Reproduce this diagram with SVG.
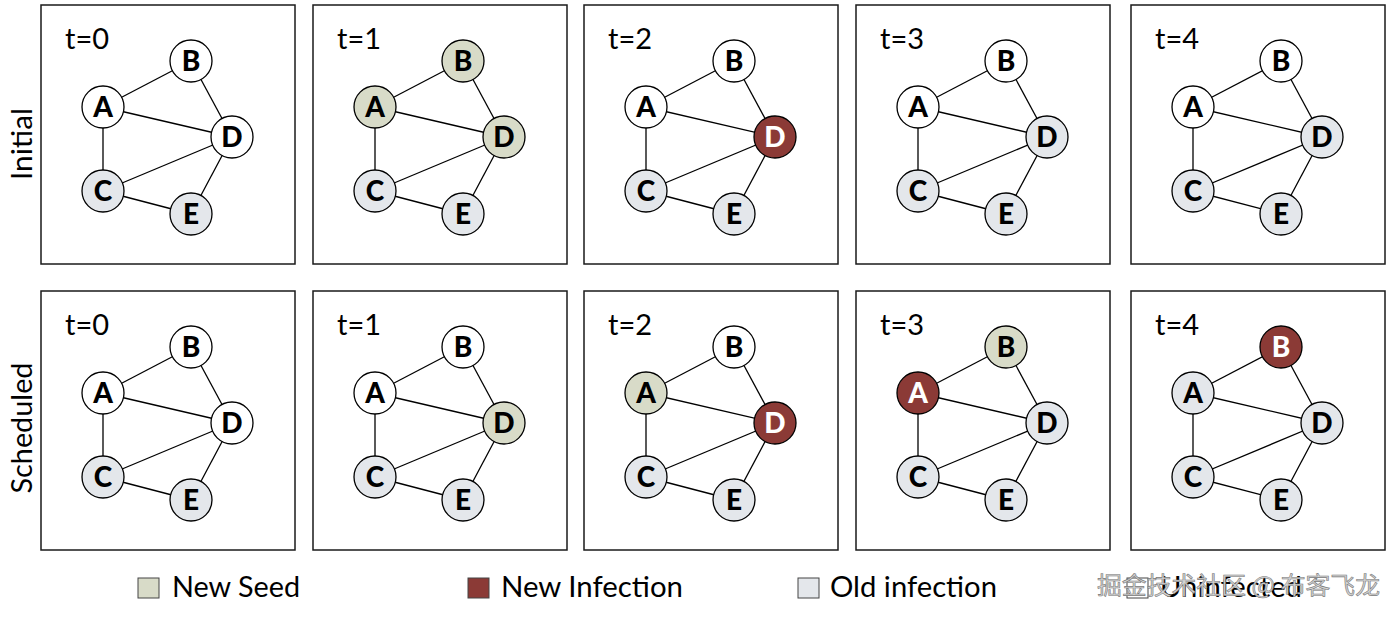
<svg xmlns="http://www.w3.org/2000/svg" width="1400" height="618" viewBox="0 0 1400 618">
<style>
  text { font-family: Lato, "Open Sans", "Liberation Sans", sans-serif; }
  .frame { fill: #fff; stroke: #1a1a1a; stroke-width: 1.5; }
  .edge { stroke: #000; stroke-width: 1.3; fill: none; }
  .n { stroke: #000; stroke-width: 1.3; }
  .w { fill: #ffffff; }
  .o { fill: #e4e7eb; }
  .s { fill: #d8dbc8; }
  .i { fill: #8b3a36; }
  .lt { font-size: 28px; font-weight: 900; fill: #000; text-anchor: middle; }
  .lt.wt { fill: #fff; }
  .tl { font-size: 29px; fill: #000; }
  .row { font-size: 29px; fill: #000; text-anchor: middle; }
  .leg { font-size: 29px; fill: #000; }
  .sq { stroke: #444; stroke-width: 1; }
  .wm { font-family: "Noto Sans CJK SC", sans-serif; font-size: 24px; fill: #d4d4d4; stroke: #7a7a7a; stroke-width: 0.6; }
</style>
<rect width="1400" height="618" fill="#fff"/>

<text class="row" transform="translate(32,144) rotate(-90)" textLength="72" lengthAdjust="spacingAndGlyphs">Initial</text>
<text class="row" transform="translate(32,428) rotate(-90)" textLength="131" lengthAdjust="spacingAndGlyphs">Scheduled</text>

<!-- Row 1: Initial -->
<g id="initial-t0" transform="translate(41,5)">
  <rect class="frame" x="0" y="0" width="254" height="259"/>
  <text class="tl" x="24" y="44">t=0</text>
  <g id="initial-t0-connectors">
    <line class="edge" x1="62" y1="102" x2="150" y2="56"/>
    <line class="edge" x1="62" y1="102" x2="191" y2="132"/>
    <line class="edge" x1="62" y1="102" x2="62" y2="186"/>
    <line class="edge" x1="150" y1="56" x2="191" y2="132"/>
    <line class="edge" x1="62" y1="186" x2="191" y2="132"/>
    <line class="edge" x1="62" y1="186" x2="150" y2="209"/>
    <line class="edge" x1="191" y1="132" x2="150" y2="209"/>
  </g>
  <g id="initial-t0-A"><circle class="n w" cx="62" cy="102" r="21"/><text class="lt" x="62" y="112">A</text></g>
  <g id="initial-t0-B"><circle class="n w" cx="150" cy="56" r="21"/><text class="lt" x="150" y="66">B</text></g>
  <g id="initial-t0-C"><circle class="n o" cx="62" cy="186" r="21"/><text class="lt" x="62" y="196">C</text></g>
  <g id="initial-t0-D"><circle class="n w" cx="191" cy="132" r="21"/><text class="lt" x="191" y="142">D</text></g>
  <g id="initial-t0-E"><circle class="n o" cx="150" cy="209" r="21"/><text class="lt" x="150" y="219">E</text></g>
</g>

<g id="initial-t1" transform="translate(313,5)">
  <rect class="frame" x="0" y="0" width="254" height="259"/>
  <text class="tl" x="24" y="44">t=1</text>
  <g id="initial-t1-connectors">
    <line class="edge" x1="62" y1="102" x2="150" y2="56"/>
    <line class="edge" x1="62" y1="102" x2="191" y2="132"/>
    <line class="edge" x1="62" y1="102" x2="62" y2="186"/>
    <line class="edge" x1="150" y1="56" x2="191" y2="132"/>
    <line class="edge" x1="62" y1="186" x2="191" y2="132"/>
    <line class="edge" x1="62" y1="186" x2="150" y2="209"/>
    <line class="edge" x1="191" y1="132" x2="150" y2="209"/>
  </g>
  <g id="initial-t1-A"><circle class="n s" cx="62" cy="102" r="21"/><text class="lt" x="62" y="112">A</text></g>
  <g id="initial-t1-B"><circle class="n s" cx="150" cy="56" r="21"/><text class="lt" x="150" y="66">B</text></g>
  <g id="initial-t1-C"><circle class="n o" cx="62" cy="186" r="21"/><text class="lt" x="62" y="196">C</text></g>
  <g id="initial-t1-D"><circle class="n s" cx="191" cy="132" r="21"/><text class="lt" x="191" y="142">D</text></g>
  <g id="initial-t1-E"><circle class="n o" cx="150" cy="209" r="21"/><text class="lt" x="150" y="219">E</text></g>
</g>

<g id="initial-t2" transform="translate(584,5)">
  <rect class="frame" x="0" y="0" width="254" height="259"/>
  <text class="tl" x="24" y="44">t=2</text>
  <g id="initial-t2-connectors">
    <line class="edge" x1="62" y1="102" x2="150" y2="56"/>
    <line class="edge" x1="62" y1="102" x2="191" y2="132"/>
    <line class="edge" x1="62" y1="102" x2="62" y2="186"/>
    <line class="edge" x1="150" y1="56" x2="191" y2="132"/>
    <line class="edge" x1="62" y1="186" x2="191" y2="132"/>
    <line class="edge" x1="62" y1="186" x2="150" y2="209"/>
    <line class="edge" x1="191" y1="132" x2="150" y2="209"/>
  </g>
  <g id="initial-t2-A"><circle class="n w" cx="62" cy="102" r="21"/><text class="lt" x="62" y="112">A</text></g>
  <g id="initial-t2-B"><circle class="n w" cx="150" cy="56" r="21"/><text class="lt" x="150" y="66">B</text></g>
  <g id="initial-t2-C"><circle class="n o" cx="62" cy="186" r="21"/><text class="lt" x="62" y="196">C</text></g>
  <g id="initial-t2-D"><circle class="n i" cx="191" cy="132" r="21"/><text class="lt wt" x="191" y="142">D</text></g>
  <g id="initial-t2-E"><circle class="n o" cx="150" cy="209" r="21"/><text class="lt" x="150" y="219">E</text></g>
</g>

<g id="initial-t3" transform="translate(856,5)">
  <rect class="frame" x="0" y="0" width="254" height="259"/>
  <text class="tl" x="24" y="44">t=3</text>
  <g id="initial-t3-connectors">
    <line class="edge" x1="62" y1="102" x2="150" y2="56"/>
    <line class="edge" x1="62" y1="102" x2="191" y2="132"/>
    <line class="edge" x1="62" y1="102" x2="62" y2="186"/>
    <line class="edge" x1="150" y1="56" x2="191" y2="132"/>
    <line class="edge" x1="62" y1="186" x2="191" y2="132"/>
    <line class="edge" x1="62" y1="186" x2="150" y2="209"/>
    <line class="edge" x1="191" y1="132" x2="150" y2="209"/>
  </g>
  <g id="initial-t3-A"><circle class="n w" cx="62" cy="102" r="21"/><text class="lt" x="62" y="112">A</text></g>
  <g id="initial-t3-B"><circle class="n w" cx="150" cy="56" r="21"/><text class="lt" x="150" y="66">B</text></g>
  <g id="initial-t3-C"><circle class="n o" cx="62" cy="186" r="21"/><text class="lt" x="62" y="196">C</text></g>
  <g id="initial-t3-D"><circle class="n o" cx="191" cy="132" r="21"/><text class="lt" x="191" y="142">D</text></g>
  <g id="initial-t3-E"><circle class="n o" cx="150" cy="209" r="21"/><text class="lt" x="150" y="219">E</text></g>
</g>

<g id="initial-t4" transform="translate(1131,5)">
  <rect class="frame" x="0" y="0" width="254" height="259"/>
  <text class="tl" x="24" y="44">t=4</text>
  <g id="initial-t4-connectors">
    <line class="edge" x1="62" y1="102" x2="150" y2="56"/>
    <line class="edge" x1="62" y1="102" x2="191" y2="132"/>
    <line class="edge" x1="62" y1="102" x2="62" y2="186"/>
    <line class="edge" x1="150" y1="56" x2="191" y2="132"/>
    <line class="edge" x1="62" y1="186" x2="191" y2="132"/>
    <line class="edge" x1="62" y1="186" x2="150" y2="209"/>
    <line class="edge" x1="191" y1="132" x2="150" y2="209"/>
  </g>
  <g id="initial-t4-A"><circle class="n w" cx="62" cy="102" r="21"/><text class="lt" x="62" y="112">A</text></g>
  <g id="initial-t4-B"><circle class="n w" cx="150" cy="56" r="21"/><text class="lt" x="150" y="66">B</text></g>
  <g id="initial-t4-C"><circle class="n o" cx="62" cy="186" r="21"/><text class="lt" x="62" y="196">C</text></g>
  <g id="initial-t4-D"><circle class="n o" cx="191" cy="132" r="21"/><text class="lt" x="191" y="142">D</text></g>
  <g id="initial-t4-E"><circle class="n o" cx="150" cy="209" r="21"/><text class="lt" x="150" y="219">E</text></g>
</g>

<!-- Row 2: Scheduled -->
<g id="scheduled-t0" transform="translate(41,291)">
  <rect class="frame" x="0" y="0" width="254" height="259"/>
  <text class="tl" x="24" y="44">t=0</text>
  <g id="scheduled-t0-connectors">
    <line class="edge" x1="62" y1="102" x2="150" y2="56"/>
    <line class="edge" x1="62" y1="102" x2="191" y2="132"/>
    <line class="edge" x1="62" y1="102" x2="62" y2="186"/>
    <line class="edge" x1="150" y1="56" x2="191" y2="132"/>
    <line class="edge" x1="62" y1="186" x2="191" y2="132"/>
    <line class="edge" x1="62" y1="186" x2="150" y2="209"/>
    <line class="edge" x1="191" y1="132" x2="150" y2="209"/>
  </g>
  <g id="scheduled-t0-A"><circle class="n w" cx="62" cy="102" r="21"/><text class="lt" x="62" y="112">A</text></g>
  <g id="scheduled-t0-B"><circle class="n w" cx="150" cy="56" r="21"/><text class="lt" x="150" y="66">B</text></g>
  <g id="scheduled-t0-C"><circle class="n o" cx="62" cy="186" r="21"/><text class="lt" x="62" y="196">C</text></g>
  <g id="scheduled-t0-D"><circle class="n w" cx="191" cy="132" r="21"/><text class="lt" x="191" y="142">D</text></g>
  <g id="scheduled-t0-E"><circle class="n o" cx="150" cy="209" r="21"/><text class="lt" x="150" y="219">E</text></g>
</g>

<g id="scheduled-t1" transform="translate(313,291)">
  <rect class="frame" x="0" y="0" width="254" height="259"/>
  <text class="tl" x="24" y="44">t=1</text>
  <g id="scheduled-t1-connectors">
    <line class="edge" x1="62" y1="102" x2="150" y2="56"/>
    <line class="edge" x1="62" y1="102" x2="191" y2="132"/>
    <line class="edge" x1="62" y1="102" x2="62" y2="186"/>
    <line class="edge" x1="150" y1="56" x2="191" y2="132"/>
    <line class="edge" x1="62" y1="186" x2="191" y2="132"/>
    <line class="edge" x1="62" y1="186" x2="150" y2="209"/>
    <line class="edge" x1="191" y1="132" x2="150" y2="209"/>
  </g>
  <g id="scheduled-t1-A"><circle class="n w" cx="62" cy="102" r="21"/><text class="lt" x="62" y="112">A</text></g>
  <g id="scheduled-t1-B"><circle class="n w" cx="150" cy="56" r="21"/><text class="lt" x="150" y="66">B</text></g>
  <g id="scheduled-t1-C"><circle class="n o" cx="62" cy="186" r="21"/><text class="lt" x="62" y="196">C</text></g>
  <g id="scheduled-t1-D"><circle class="n s" cx="191" cy="132" r="21"/><text class="lt" x="191" y="142">D</text></g>
  <g id="scheduled-t1-E"><circle class="n o" cx="150" cy="209" r="21"/><text class="lt" x="150" y="219">E</text></g>
</g>

<g id="scheduled-t2" transform="translate(584,291)">
  <rect class="frame" x="0" y="0" width="254" height="259"/>
  <text class="tl" x="24" y="44">t=2</text>
  <g id="scheduled-t2-connectors">
    <line class="edge" x1="62" y1="102" x2="150" y2="56"/>
    <line class="edge" x1="62" y1="102" x2="191" y2="132"/>
    <line class="edge" x1="62" y1="102" x2="62" y2="186"/>
    <line class="edge" x1="150" y1="56" x2="191" y2="132"/>
    <line class="edge" x1="62" y1="186" x2="191" y2="132"/>
    <line class="edge" x1="62" y1="186" x2="150" y2="209"/>
    <line class="edge" x1="191" y1="132" x2="150" y2="209"/>
  </g>
  <g id="scheduled-t2-A"><circle class="n s" cx="62" cy="102" r="21"/><text class="lt" x="62" y="112">A</text></g>
  <g id="scheduled-t2-B"><circle class="n w" cx="150" cy="56" r="21"/><text class="lt" x="150" y="66">B</text></g>
  <g id="scheduled-t2-C"><circle class="n o" cx="62" cy="186" r="21"/><text class="lt" x="62" y="196">C</text></g>
  <g id="scheduled-t2-D"><circle class="n i" cx="191" cy="132" r="21"/><text class="lt wt" x="191" y="142">D</text></g>
  <g id="scheduled-t2-E"><circle class="n o" cx="150" cy="209" r="21"/><text class="lt" x="150" y="219">E</text></g>
</g>

<g id="scheduled-t3" transform="translate(856,291)">
  <rect class="frame" x="0" y="0" width="254" height="259"/>
  <text class="tl" x="24" y="44">t=3</text>
  <g id="scheduled-t3-connectors">
    <line class="edge" x1="62" y1="102" x2="150" y2="56"/>
    <line class="edge" x1="62" y1="102" x2="191" y2="132"/>
    <line class="edge" x1="62" y1="102" x2="62" y2="186"/>
    <line class="edge" x1="150" y1="56" x2="191" y2="132"/>
    <line class="edge" x1="62" y1="186" x2="191" y2="132"/>
    <line class="edge" x1="62" y1="186" x2="150" y2="209"/>
    <line class="edge" x1="191" y1="132" x2="150" y2="209"/>
  </g>
  <g id="scheduled-t3-A"><circle class="n i" cx="62" cy="102" r="21"/><text class="lt wt" x="62" y="112">A</text></g>
  <g id="scheduled-t3-B"><circle class="n s" cx="150" cy="56" r="21"/><text class="lt" x="150" y="66">B</text></g>
  <g id="scheduled-t3-C"><circle class="n o" cx="62" cy="186" r="21"/><text class="lt" x="62" y="196">C</text></g>
  <g id="scheduled-t3-D"><circle class="n o" cx="191" cy="132" r="21"/><text class="lt" x="191" y="142">D</text></g>
  <g id="scheduled-t3-E"><circle class="n o" cx="150" cy="209" r="21"/><text class="lt" x="150" y="219">E</text></g>
</g>

<g id="scheduled-t4" transform="translate(1131,291)">
  <rect class="frame" x="0" y="0" width="254" height="259"/>
  <text class="tl" x="24" y="44">t=4</text>
  <g id="scheduled-t4-connectors">
    <line class="edge" x1="62" y1="102" x2="150" y2="56"/>
    <line class="edge" x1="62" y1="102" x2="191" y2="132"/>
    <line class="edge" x1="62" y1="102" x2="62" y2="186"/>
    <line class="edge" x1="150" y1="56" x2="191" y2="132"/>
    <line class="edge" x1="62" y1="186" x2="191" y2="132"/>
    <line class="edge" x1="62" y1="186" x2="150" y2="209"/>
    <line class="edge" x1="191" y1="132" x2="150" y2="209"/>
  </g>
  <g id="scheduled-t4-A"><circle class="n o" cx="62" cy="102" r="21"/><text class="lt" x="62" y="112">A</text></g>
  <g id="scheduled-t4-B"><circle class="n i" cx="150" cy="56" r="21"/><text class="lt wt" x="150" y="66">B</text></g>
  <g id="scheduled-t4-C"><circle class="n o" cx="62" cy="186" r="21"/><text class="lt" x="62" y="196">C</text></g>
  <g id="scheduled-t4-D"><circle class="n o" cx="191" cy="132" r="21"/><text class="lt" x="191" y="142">D</text></g>
  <g id="scheduled-t4-E"><circle class="n o" cx="150" cy="209" r="21"/><text class="lt" x="150" y="219">E</text></g>
</g>

<!-- Legend -->
<g id="legend">
  <rect class="sq s" x="138" y="578" width="21" height="20"/>
  <text class="leg" x="172" y="597" textLength="128" lengthAdjust="spacingAndGlyphs">New Seed</text>
  <rect class="sq i" x="468" y="578" width="21" height="20"/>
  <text class="leg" x="501" y="597" textLength="182" lengthAdjust="spacingAndGlyphs">New Infection</text>
  <rect class="sq o" x="798" y="578" width="21" height="20"/>
  <text class="leg" x="830" y="597" textLength="167" lengthAdjust="spacingAndGlyphs">Old infection</text>
  <rect class="sq w" x="1127" y="578" width="21" height="20"/>
  <text class="leg" x="1160" y="597" textLength="142" lengthAdjust="spacingAndGlyphs">Uninfected</text>
</g>

<text class="wm" x="1097" y="594" textLength="283" lengthAdjust="spacingAndGlyphs">掘金技术社区 @ 布客飞龙</text>
</svg>
